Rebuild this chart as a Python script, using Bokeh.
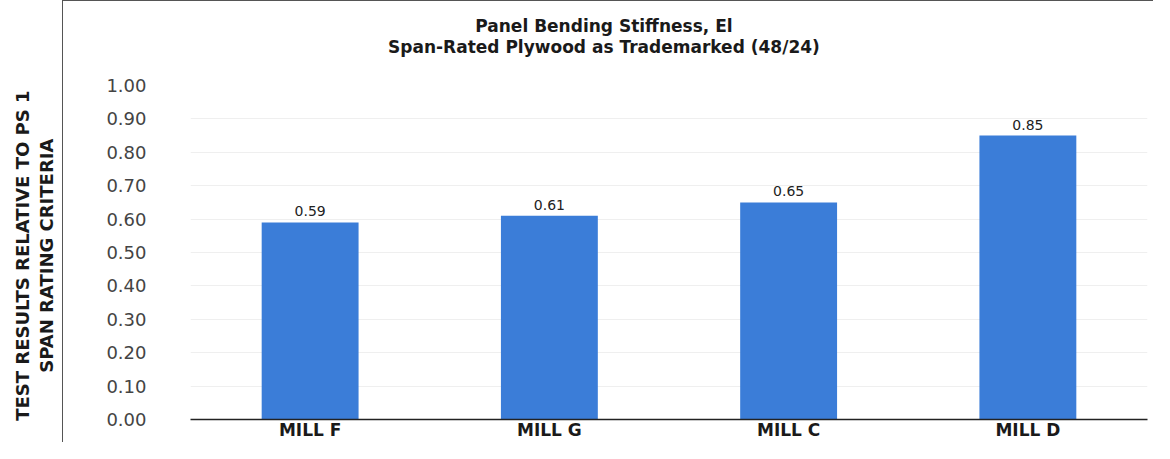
import math
from bokeh.plotting import figure
from bokeh.layouts import row, column
from bokeh.models import (ColumnDataSource, LabelSet, Label, FixedTicker,
                          FactorRange, Range1d, PrintfTickFormatter)
from bokeh.core.properties import value
from bokeh.embed import file_html
from bokeh.resources import INLINE

mills = ["MILL F", "MILL G", "MILL C", "MILL D"]
ratios = [0.59, 0.61, 0.65, 0.85]
y_ticks = [0.0, 0.1, 0.2, 0.3, 0.4, 0.5, 0.6, 0.7, 0.8, 0.9, 1.0]
title_lines = ["Panel Bending Stiffness, El",
               "Span-Rated Plywood as Trademarked (48/24)"]
y_title_lines = ["TEST RESULTS RELATIVE TO PS 1", "SPAN RATING CRITERIA"]

FONT = "DejaVu Sans"
DARK = "#1a1a1a"

src = ColumnDataSource(dict(mill=mills, ratio=ratios,
                            lab=["%.2f" % v for v in ratios]))


def strip(w, h):
    f = figure(width=w, height=h, x_range=Range1d(0, 1), y_range=Range1d(0, 1),
               output_backend="svg", toolbar_location=None, title=None,
               min_border=0)
    f.outline_line_color = None
    f.background_fill_color = "white"
    f.border_fill_color = "white"
    f.xgrid.grid_line_color = None
    f.ygrid.grid_line_color = None
    f.xaxis.visible = False
    f.yaxis.visible = False
    return f


# ---- left strip holding the y-axis title (outside the box)
lf = strip(62, 443)
for i, t in enumerate(y_title_lines):
    lf.add_layout(Label(x=0.347 + 0.395 * i, y=0.424, text=t, angle=math.pi / 2,
                        text_align="center", text_baseline="middle",
                        text_font=FONT, text_font_size="18px",
                        text_font_style="bold", text_color=DARK))

# ---- title strip (inside the box)
tf = strip(1090, 64)
for i, t in enumerate(title_lines):
    tf.add_layout(Label(x=0.432, y=0.617 - 0.328 * i, text=t,
                        text_align="center", text_baseline="middle",
                        text_font=FONT, text_font_size="17px",
                        text_font_style="bold", text_color=DARK))

# ---- main chart
p = figure(width=1090, height=377,
           x_range=FactorRange(factors=mills, range_padding=0),
           y_range=Range1d(0, 1.0),
           output_backend="svg", toolbar_location=None, title=None,
           min_border_left=127, min_border_right=6,
           min_border_top=20, min_border_bottom=14)
p.outline_line_color = None
p.background_fill_color = "white"
p.border_fill_color = "white"
p.xgrid.grid_line_color = None
p.ygrid.grid_line_color = "#efefef"

p.vbar(x="mill", top="ratio", width=0.405, source=src,
       fill_color="#3b7dd8", line_color=None)

p.add_layout(LabelSet(x="mill", y="ratio", text="lab", source=src,
                      y_offset=6, text_align="center", text_baseline="bottom",
                      text_font=value(FONT), text_font_size="14px",
                      text_color="#222222"))

p.yaxis.ticker = FixedTicker(ticks=y_ticks)
p.yaxis.formatter = PrintfTickFormatter(format="%.2f")
p.yaxis.axis_line_color = None
p.yaxis.major_tick_line_color = None
p.yaxis.minor_tick_line_color = None
p.yaxis.major_tick_out = 0
p.yaxis.major_label_standoff = 44
p.yaxis.major_label_text_font = FONT
p.yaxis.major_label_text_font_size = "18px"
p.yaxis.major_label_text_color = "#444444"

p.xaxis.axis_line_color = "#222222"
p.xaxis.axis_line_width = 1.5
p.xaxis.major_tick_line_color = None
p.xaxis.minor_tick_line_color = None
p.xaxis.major_tick_out = 0
p.xaxis.axis_label_standoff = 0
p.xaxis.major_label_standoff = 0
p.xaxis.major_label_text_font = FONT
p.xaxis.major_label_text_font_size = "17px"
p.xaxis.major_label_text_font_style = "bold"
p.xaxis.major_label_text_color = DARK

box = column(tf, p, styles={"border-left": "1.5px solid #555555",
                            "border-top": "1.5px solid #555555"})
layout = row(lf, box)

open("out.html", "w").write(file_html(layout, INLINE))
